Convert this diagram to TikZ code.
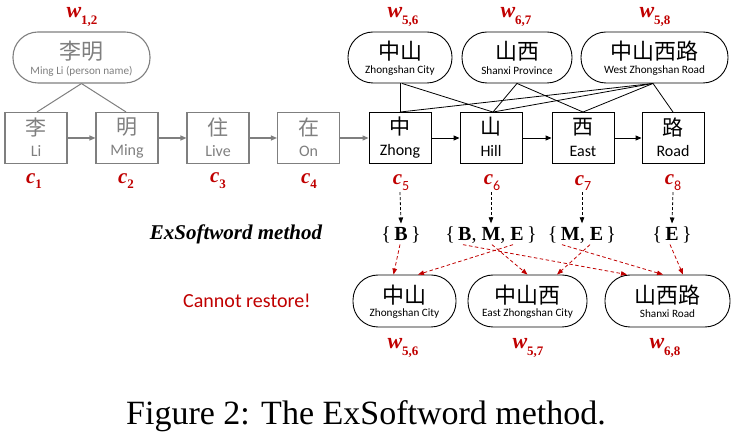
\documentclass[tikz,border=0pt]{standalone}
\usepackage{fontspec}
\setmainfont{Carlito}
\newfontfamily\cjk{Noto Sans CJK SC}
\newfontfamily\serif{Liberation Serif}
\usetikzlibrary{arrows.meta,calc}
\definecolor{dred}{HTML}{C00000}
\definecolor{gr}{HTML}{7F7F7F}
\newcommand{\wlabel}[2]{{\serif\bfseries\itshape #1}\raisebox{-0.28em}{\serif\bfseries\fontsize{13}{13}\selectfont #2}}
\newcommand{\wlabelthin}[2]{{\serif\bfseries\itshape #1}\raisebox{-0.28em}{\fontsize{14}{14}\selectfont #2}}
\tikzset{
 gbox/.style={draw=gr, line width=1.1pt, minimum width=62pt, minimum height=51pt, inner sep=0pt},
 bbox/.style={draw=black, line width=0.9pt, minimum width=62pt, minimum height=51pt, inner sep=0pt},
 pill/.style={draw=black, line width=0.9pt, rounded corners=25pt, minimum height=51pt, inner sep=0pt},
 gpill/.style={pill, draw=gr, line width=1.1pt},
 boxcjk/.style={font=\cjk\fontsize{21}{21}\selectfont, inner sep=0pt},
 boxen/.style={font=\fontsize{16}{16}\selectfont, inner sep=0pt},
 pillcjk/.style={font=\cjk\fontsize{22}{22}\selectfont, inner sep=0pt},
 pillen/.style={font=\fontsize{11.2}{11.2}\selectfont, inner sep=0pt},
 wlab/.style={text=dred, font=\fontsize{22}{22}\selectfont, inner sep=0pt},
 clab/.style={text=dred, font=\fontsize{21}{21}\selectfont, inner sep=0pt},
 garrow/.style={draw=gr, line width=1.1pt, -{Triangle[length=6pt,width=5pt]}},
 barrow/.style={draw=black, line width=0.9pt, -{Triangle[length=6pt,width=5pt]}},
 link/.style={draw=black, line width=0.8pt},
 glink/.style={draw=gr, line width=1pt},
 bdash/.style={draw=black, line width=0.8pt, dash pattern=on 3pt off 2pt, -{Triangle[length=6pt,width=4.5pt]}},
 rdash/.style={draw=dred, line width=0.8pt, dash pattern=on 3.5pt off 2.5pt, -{Triangle[length=6pt,width=4.5pt]}},
 setlab/.style={font=\serif\fontsize{20}{20}\selectfont, inner sep=0pt},
}
\begin{document}
\begin{tikzpicture}[x=1pt,y=-1pt]
\useasboundingbox (0,0) rectangle (734,435);

% ---- character boxes
\node[gbox] (li)   at (36,138)  {};
\node[gbox] (ming) at (127,138) {};
\node[gbox] (live) at (218,138) {};
\node[gbox] (on)   at (308.5,138) {};
\node[bbox] (zh)   at (400,138) {};
\node[bbox] (hill) at (491,138) {};
\node[bbox] (east) at (583,138) {};
\node[bbox] (road) at (673,138) {};

\node[boxcjk,text=gr] (lic) at (36,127) {李};
\node[boxen,text=gr]  (lie) at (36,151) {Li};
\node[boxcjk,text=gr] (mingc) at (127,127) {明};
\node[boxen,text=gr]  (minge) at (127,151) {Ming};
\node[boxcjk,text=gr] (livec) at (218,127) {住};
\node[boxen,text=gr]  (livee) at (218,151) {Live};
\node[boxcjk,text=gr] (onc) at (308.5,127) {在};
\node[boxen,text=gr]  (one) at (308.5,151) {On};
\node[boxcjk] (zhc) at (400,127) {中};
\node[boxen]  (zhe) at (400,151) {Zhong};
\node[boxcjk] (hillc) at (491,127) {山};
\node[boxen]  (hille) at (491,151) {Hill};
\node[boxcjk] (eastc) at (583,127) {西};
\node[boxen]  (easte) at (583,151) {East};
\node[boxcjk] (roadc) at (673,127) {路};
\node[boxen]  (roade) at (673,151) {Road};

\draw[garrow] (li) -- (ming);
\draw[garrow] (ming) -- (live);
\draw[garrow] (live) -- (on);
\draw[garrow] (on) -- (zh);
\draw[barrow] (zh) -- (hill);
\draw[barrow] (hill) -- (east);
\draw[barrow] (east) -- (road);

% ---- top words
\node[gpill, minimum width=137pt] (lm) at (81.5,57.5) {};
\node[pillcjk,text=gr] (lmc) at (81.5,51) {李明};
\node[pillen,text=gr]  (lme) at (81.5,71) {Ming Li (person name)};

\node[pill, minimum width=104pt] (zs) at (400,57.5) {};
\node[pillcjk] (zsc) at (400,51) {中山};
\node[pillen]  (zse) at (400,71) {Zhongshan City};

\node[pill, minimum width=110pt] (sx) at (517,57.5) {};
\node[pillcjk] (sxc) at (517,51) {山西};
\node[pillen]  (sxe) at (517,71) {Shanxi Province};

\node[pill, minimum width=147pt] (wz) at (654.5,57.5) {};
\node[pillcjk] (wzc) at (654.5,51) {中山西路};
\node[pillen]  (wze) at (654.5,71) {West Zhongshan Road};

\node[wlab] (w12) at (82,17) {\wlabel{w}{1,2}};
\node[wlab] (w56) at (403,17) {\wlabel{w}{5,6}};
\node[wlab] (w67) at (516,17) {\wlabel{w}{6,7}};
\node[wlab] (w58) at (655,17) {\wlabel{w}{5,8}};

\draw[glink] (lm.south) -- ([xshift=1pt]li.north);
\draw[glink] (lm.south) -- ([xshift=-1pt]ming.north);
\draw[link] (zs.south) -- (zh.north);
\draw[link] ([xshift=2pt]zs.south) -- ([xshift=2pt]hill.north);
\draw[link] (sx.south) -- ([xshift=2pt]hill.north);
\draw[link] (sx.south) -- (east.north);
\draw[link] ([xshift=-1.5pt]wz.south) -- (zh.north);
\draw[link] ([xshift=-1.5pt]wz.south) -- ([xshift=2pt]hill.north);
\draw[link] ([xshift=-1.5pt]wz.south) -- (east.north);
\draw[link] ([xshift=-1.5pt]wz.south) -- (road.north);

% ---- c labels
\node[clab] (c1) at (34,181) {\wlabel{c}{1}};
\node[clab] (c2) at (126,181) {\wlabel{c}{2}};
\node[clab] (c3) at (218,181) {\wlabel{c}{3}};
\node[clab] (c4) at (309,181) {\wlabel{c}{4}};
\node[clab] (c5) at (401,183) {\wlabelthin{c}{5}};
\node[clab] (c6) at (492,183) {\wlabelthin{c}{6}};
\node[clab] (c7) at (583,183) {\wlabelthin{c}{7}};
\node[clab] (c8) at (673,183) {\wlabelthin{c}{8}};

% ---- label sets
\node[font=\serif\bfseries\itshape\fontsize{21}{21}\selectfont, inner sep=0pt] (ex) at (236,234) {ExSoftword method};
\node[setlab] (sb)   at (401,235) {\{\,\textbf{B}\,\}};
\node[setlab] (sbme) at (491,235) {\{\,\textbf{B}, \textbf{M}, \textbf{E}\,\}};
\node[setlab] (sme)  at (582,235) {\{\,\textbf{M}, \textbf{E}\,\}};
\node[setlab] (se)   at (672,235) {\{\,\textbf{E}\,\}};

\draw[bdash] ([xshift=-1pt,yshift=-1pt]c5.south) -- ([yshift=3pt]sb.north);
\draw[bdash] ([xshift=-1pt,yshift=-1pt]c6.south) -- ([yshift=3pt]sbme.north);
\draw[bdash] ([xshift=-1pt,yshift=-1pt]c7.south) -- ([yshift=3pt]sme.north);
\draw[bdash] ([yshift=-1pt]c8.south) -- ([yshift=3pt]se.north);

% ---- restored words
\node[text=dred, font=\fontsize{20}{20}\selectfont, inner sep=0pt] (cr) at (247,301) {Cannot restore!};

\node[pill, minimum width=103pt, minimum height=52pt] (b1) at (404.5,301) {};
\node[pillcjk] (b1c) at (404.5,295) {中山};
\node[pillen]  (b1e) at (404.5,314) {Zhongshan City};
\node[pill, minimum width=119pt, minimum height=52pt] (b2) at (527.5,301) {};
\node[pillcjk] (b2c) at (527.5,295) {中山西};
\node[pillen]  (b2e) at (527.5,314) {East Zhongshan City};
\node[pill, minimum width=125pt, minimum height=52pt] (b3) at (667.5,301) {};
\node[pillcjk] (b3c) at (667.5,295) {山西路};
\node[pillen]  (b3e) at (667.5,314) {Shanxi Road};

\node[wlab] (v56) at (403,348) {\wlabel{w}{5,6}};
\node[wlab] (v57) at (528,348) {\wlabel{w}{5,7}};
\node[wlab] (v68) at (665,348) {\wlabel{w}{6,8}};

\draw[rdash] ([xshift=-1pt,yshift=-1pt]sb.south) -- ([xshift=-11pt]b1.north);
\draw[rdash] ([xshift=22pt,yshift=-1pt]sbme.south) -- ([xshift=13.5pt]b1.north);
\draw[rdash] ([xshift=1pt,yshift=-1pt]sbme.south) -- ([xshift=0pt]b2.north);
\draw[rdash] ([xshift=8pt,yshift=-1pt]sme.south) -- ([xshift=29.5pt]b2.north);
\draw[rdash] ([xshift=-28pt,yshift=-1pt]sbme.south) -- ([xshift=-40.5pt]b3.north);
\draw[rdash] ([xshift=-20pt,yshift=-1pt]sme.south) -- ([xshift=-4.5pt]b3.north);
\draw[rdash] ([xshift=-2pt,yshift=-1pt]se.south) -- ([xshift=15.5pt]b3.north);

% ---- caption
\node[font=\serif\fontsize{34}{34}\selectfont, inner sep=0pt, anchor=base west] (cap) at (126,425) {Figure 2: The ExSoftword method.};
\end{tikzpicture}
\end{document}
